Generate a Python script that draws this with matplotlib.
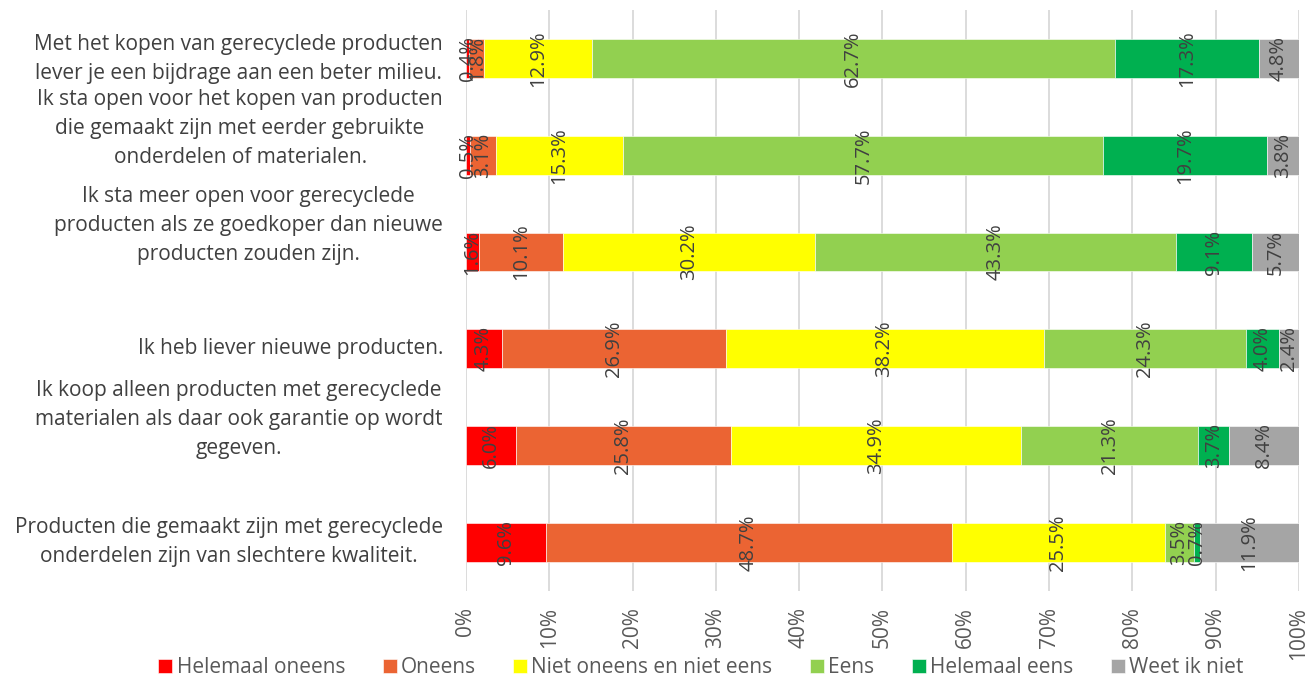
import numpy as np
import matplotlib.pyplot as plt
from matplotlib.transforms import offset_copy

plt.rcParams['font.family'] = ['Open Sans', 'DejaVu Sans']

statements = [
    "Met het kopen van gerecyclede producten\nlever je een bijdrage aan een beter milieu.",
    "Ik sta open voor het kopen van producten\ndie gemaakt zijn met eerder gebruikte\nonderdelen of materialen.",
    "Ik sta meer open voor gerecyclede\nproducten als ze goedkoper dan nieuwe\nproducten zouden zijn.",
    "Ik heb liever nieuwe producten.",
    "Ik koop alleen producten met gerecyclede\nmaterialen als daar ook garantie op wordt\ngegeven.",
    "Producten die gemaakt zijn met gerecyclede\nonderdelen zijn van slechtere kwaliteit.",
]
answers = ["Helemaal oneens", "Oneens", "Niet oneens en niet eens",
           "Eens", "Helemaal eens", "Weet ik niet"]

helemaal_oneens = [0.4, 0.5, 1.6, 4.3, 6.0, 9.6]
oneens = [1.8, 3.1, 10.1, 26.9, 25.8, 48.7]
neutraal = [12.9, 15.3, 30.2, 38.2, 34.9, 25.5]
eens = [62.7, 57.7, 43.3, 24.3, 21.3, 3.5]
helemaal_eens = [17.3, 19.7, 9.1, 4.0, 3.7, 0.7]
weet_niet = [4.8, 3.8, 5.7, 2.4, 8.4, 11.9]

colors = ['#FF0000', '#EB6433', '#FFFF00', '#92D050', '#00B050', '#A5A5A5']

series = np.array([helemaal_oneens, oneens, neutraal, eens, helemaal_eens, weet_niet])
shares = series / series.sum(axis=0) * 100  # 100% stacked like Excel

fig = plt.figure(figsize=(13.1, 6.79), dpi=100)
ax = fig.add_axes([0.3557, 0.130, 0.6359, 0.855])

y = np.arange(len(statements))
left = np.zeros(len(statements))
for i, name in enumerate(answers):
    ax.barh(y, shares[i], left=left, height=0.4, color=colors[i], label=name,
            edgecolor='white', linewidth=0.4, zorder=2)
    for yy, l, w, v in zip(y, left, shares[i], series[i]):
        ax.text(l + w / 2, yy, f'{v:.1f}%', rotation=90, ha='center', va='center',
                fontsize=14.5, color='#404040', zorder=3)
    left += shares[i]

ax.set_xlim(0, 100)
ax.set_ylim(5.5, -0.5)
ax.set_xticks(np.arange(0, 101, 10))
ax.set_xticklabels([f'{t}%' for t in range(0, 101, 10)], rotation=90,
                   fontsize=15, color='#595959')
ax.set_yticks([])
ax.tick_params(axis='x', length=0, pad=12)
ax.grid(axis='x', color='#D9D9D9', linewidth=1.3, zorder=0)
for s in ax.spines.values():
    s.set_visible(False)

# statement labels, 3-line labels sit one line higher (as in Excel)
for yy, txt in zip(y, statements):
    n = txt.count('\n') + 1
    tr = ax.get_yaxis_transform()
    if n == 3:
        tr = offset_copy(tr, fig=fig, y=19, units='points')
    ax.text(-0.0276, yy, txt, transform=tr, ha='right', va='center',
            multialignment='center', fontsize=15, color='#404040',
            linespacing=1.5)

fig.legend(loc='lower center', bbox_to_anchor=(0.535, -0.026), ncol=6,
           frameon=False, fontsize=15, handlelength=0.67, handleheight=0.67,
           handletextpad=0.2, columnspacing=1.8, labelcolor='#595959')

fig.savefig('out.png', dpi=100)
